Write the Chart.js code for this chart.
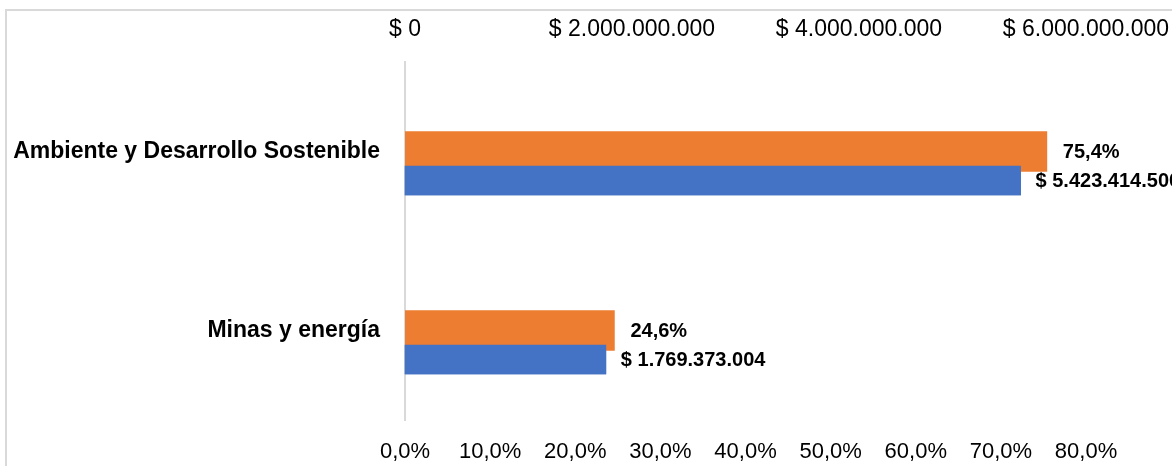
<!DOCTYPE html>
<html>
<head>
<meta charset="utf-8">
<script src="https://cdn.jsdelivr.net/npm/chart.js@4"></script>
<style>
    html, body { margin: 0; padding: 0; background: #fff; overflow: hidden; }
    #frame { position: absolute; left: 5px; top: 9px; width: 2000px; height: 2000px; border: 2px solid #d9d9d9; }
    #chart { position: absolute; left: 0; top: 0; }
</style>
</head>
<body>
<div id="frame"></div>
<canvas id="chart" width="1172" height="466"></canvas>
<script>
// Data
const categories = ['Ambiente y Desarrollo Sostenible', 'Minas y energía'];
const shareValues = [75.4, 24.6];           // % of total (orange, bottom axis)
const amountValues = [5423414500, 1769373004]; // pesos (blue, top axis)
const shareTicks = [0, 10, 20, 30, 40, 50, 60, 70, 80];
const amountTicks = [0, 2000000000, 4000000000, 6000000000];

const FONT = "'Liberation Sans', Arial, sans-serif";

// 1234567 -> "1.234.567"
function formatThousands(v) {
    return Math.round(v).toString().replace(/\B(?=(\d{3})+(?!\d))/g, '.');
}

function formatPct(v) {
    return v.toFixed(1).replace('.', ',') + '%';
}

function formatMoney(v) {
    return '$ ' + formatThousands(v);
}

// Draws blue bars on top of orange ones, then the value labels
const barLabels = {
    id: 'barLabels',
    afterDatasetsDraw(chart) {
        const ctx = chart.ctx;
        chart.getDatasetMeta(2).controller.draw();

        ctx.save();
        ctx.fillStyle = '#000';
        ctx.font = 'bold 20px ' + FONT;
        ctx.textAlign = 'left';
        ctx.textBaseline = 'middle';
        chart.getDatasetMeta(1).data.forEach((bar, i) => {
            ctx.fillText(formatPct(shareValues[i]), bar.x + 16, bar.y + 1);
        });
        chart.getDatasetMeta(2).data.forEach((bar, i) => {
            ctx.fillText(formatMoney(amountValues[i]), bar.x + 15, bar.y + 1);
        });
        ctx.restore();
    }
};

// fixed axis band, no extra room for the end labels
function fixHeight(h) {
    return function (scale) {
        scale.height = h;
        scale.paddingLeft = 0;
        scale.paddingRight = 0;
    };
}

const ctx = document.getElementById('chart').getContext('2d');

new Chart(ctx, {
    type: 'bar',
    data: {
        labels: categories,
        datasets: [
            {
                // empty slot so the orange bar sits on the category centre
                label: '',
                data: categories.map(() => null),
                xAxisID: 'xPct',
                barThickness: 29
            },
            {
                label: 'Participación',
                data: shareValues,
                xAxisID: 'xPct',
                backgroundColor: '#ED7D31',
                barThickness: 40
            },
            {
                label: 'Valor',
                data: amountValues,
                xAxisID: 'xMoney',
                backgroundColor: '#4472C4',
                barThickness: 29
            }
        ]
    },
    options: {
        indexAxis: 'y',
        responsive: false,
        animation: false,
        devicePixelRatio: 1,
        layout: {
            padding: { left: 0, right: 86, top: 0, bottom: 0 }
        },
        plugins: {
            legend: { display: false },
            tooltip: { enabled: false }
        },
        scales: {
            y: {
                type: 'category',
                offset: true,
                grid: { display: false, drawTicks: false },
                border: { display: true, color: '#d9d9d9', width: 2 },
                ticks: {
                    padding: 25,
                    color: '#000',
                    font: { family: FONT, size: 23, weight: 'bold' }
                },
                afterFit(scale) {
                    scale.width = 405;
                }
            },
            xPct: {
                type: 'linear',
                position: 'bottom',
                min: 0,
                max: 80,
                grid: { display: false, drawTicks: false },
                border: { display: false },
                afterBuildTicks(scale) {
                    scale.ticks = shareTicks.map(v => ({ value: v }));
                },
                ticks: {
                    padding: 19,
                    color: '#000',
                    maxRotation: 0,
                    font: { family: FONT, size: 22 },
                    callback: v => formatPct(v)
                },
                afterFit: fixHeight(46)
            },
            xMoney: {
                type: 'linear',
                position: 'top',
                min: 0,
                max: 6000000000,
                grid: { display: false, drawTicks: false },
                border: { display: false },
                afterBuildTicks(scale) {
                    scale.ticks = amountTicks.map(v => ({ value: v }));
                },
                ticks: {
                    padding: 19,
                    color: '#000',
                    maxRotation: 0,
                    font: { family: FONT, size: 23 },
                    callback: v => formatMoney(v)
                },
                afterFit: fixHeight(62)
            }
        }
    },
    plugins: [barLabels]
});
</script>
</body>
</html>
